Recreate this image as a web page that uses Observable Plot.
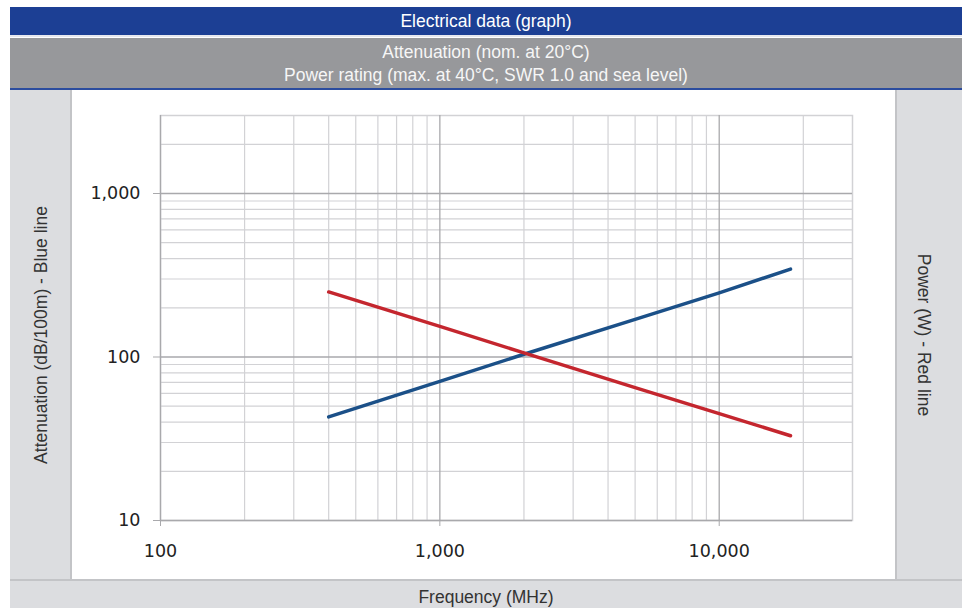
<!DOCTYPE html>
<html>
<head>
<meta charset="utf-8">
<script src="https://cdn.jsdelivr.net/npm/d3@7"></script>
<script src="https://cdn.jsdelivr.net/npm/@observablehq/plot@0.6"></script>
<style>
  html, body { margin: 0; padding: 0; background: #ffffff; }
  #page { position: relative; width: 962px; height: 608px; overflow: hidden; background: #ffffff;
          font-family: "Liberation Sans", Arial, sans-serif; }
  .box { position: absolute; box-sizing: border-box; }
  .txt { position: absolute; white-space: nowrap; font-size: 17.5px; line-height: 20px; }
</style>
</head>
<body>
<div id="page">
  <div class="box" style="left:10px;top:7px;width:952px;height:28px;background:#1c3f94;"></div>
  <div class="txt" style="left:10px;width:952px;top:11px;text-align:center;color:#ffffff;">Electrical data (graph)</div>
  <div class="box" style="left:10px;top:35px;width:952px;height:2px;background:#e6e8ef;"></div>
  <div class="box" style="left:10px;top:38px;width:952px;height:50px;background:#97989b;"></div>
  <div class="txt" style="left:10px;width:952px;top:42px;text-align:center;color:#f6f6f6;">Attenuation (nom. at 20°C)</div>
  <div class="txt" style="left:10px;width:952px;top:65px;text-align:center;color:#f6f6f6;">Power rating (max. at 40°C, SWR 1.0 and sea level)</div>
  <div class="box" style="left:10px;top:88px;width:952px;height:2px;background:#2b4c9e;"></div>
  <div class="box" style="left:10px;top:90px;width:60px;height:490px;background:#dcdde0;"></div>
  <div class="box" style="left:70px;top:90px;width:2px;height:490px;background:#c3c4c7;"></div>
  <div class="box" style="left:897px;top:90px;width:65px;height:490px;background:#dcdde0;"></div>
  <div class="box" style="left:895px;top:90px;width:2px;height:490px;background:#c3c4c7;"></div>
  <div class="box" style="left:10px;top:579px;width:952px;height:2px;background:#c3c4c7;"></div>
  <div class="box" style="left:10px;top:581px;width:952px;height:27px;background:#dcdde0;"></div>
  <div class="txt" style="left:10px;width:952px;top:587px;text-align:center;color:#333333;">Frequency (MHz)</div>
  <div class="txt" style="left:41px;top:335px;color:#333333;transform:translate(-50%,-50%) rotate(-90deg);">Attenuation (dB/100m) - Blue line</div>
  <div class="txt" style="left:924px;top:335px;color:#333333;transform:translate(-50%,-50%) rotate(90deg);">Power (W) - Red line</div>
  <div id="chart" style="position:absolute;left:72px;top:90px;width:823px;height:489px;"></div>
</div>
<script>
// Data
const frequencyMHz = [400, 1000, 2000, 5000, 10000, 18000];
const attenuationBlue = [43, 71, 104, 170, 247, 345];
const powerRed = [250, 154, 106, 65, 45, 33];

const xTicks = [100, 1000, 10000];
const yTicks = [10, 100, 1000];
const xMinor = [200, 300, 400, 500, 600, 700, 800, 900,
                2000, 3000, 4000, 5000, 6000, 7000, 8000, 9000, 20000];
const yMinor = [20, 30, 40, 50, 60, 70, 80, 90,
                200, 300, 400, 500, 600, 700, 800, 900, 2000];

const blueData = frequencyMHz.map((f, i) => ({f, v: attenuationBlue[i]}));
const redData = frequencyMHz.map((f, i) => ({f, v: powerRed[i]}));

const minorC = "#d2d2d5";
const majorC = "#a9a9ac";
const fmt = d3.format(",");

const chart = Plot.plot({
  width: 823,
  height: 489,
  marginLeft: 88,
  marginRight: 43,
  marginTop: 25,
  marginBottom: 59,
  style: {fontFamily: "'DejaVu Sans', sans-serif", fontSize: "17.5px", background: "#ffffff", color: "#222222"},
  x: {type: "log", domain: [100, 30000], label: null},
  y: {type: "log", domain: [10, 3000], label: null},
  marks: [
    Plot.gridX(xMinor, {stroke: minorC, strokeOpacity: 1, strokeWidth: 1.2}),
    Plot.gridY(yMinor, {stroke: minorC, strokeOpacity: 1, strokeWidth: 1.2}),
    Plot.frame({stroke: minorC, strokeWidth: 1.5}),
    Plot.gridX(xTicks, {stroke: majorC, strokeOpacity: 1, strokeWidth: 1.3}),
    Plot.gridY(yTicks, {stroke: majorC, strokeOpacity: 1, strokeWidth: 1.3}),
    Plot.axisX({ticks: xTicks, tickFormat: fmt, tickSize: 6, tickPadding: 18, stroke: majorC, fill: "#222222", label: null}),
    Plot.axisY({ticks: yTicks, tickFormat: fmt, tickSize: 7, tickPadding: 13, stroke: majorC, fill: "#222222", label: null}),
    Plot.line(blueData, {x: "f", y: "v", stroke: "#1b5088", strokeWidth: 3.5}),
    Plot.line(redData, {x: "f", y: "v", stroke: "#c4262e", strokeWidth: 3.5})
  ]
});
document.getElementById("chart").appendChild(chart);
</script>
</body>
</html>
